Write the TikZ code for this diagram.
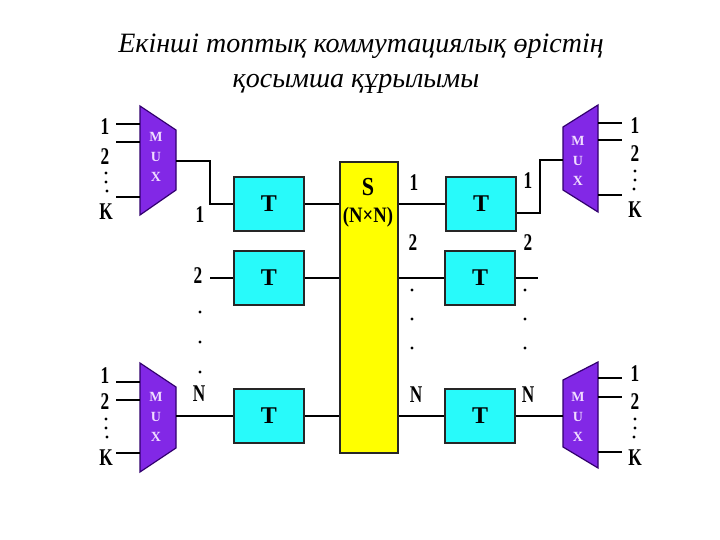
\documentclass[tikz,border=0pt]{standalone}
\usepackage{fontspec}
\setmainfont{Liberation Serif}
\usetikzlibrary{calc}
\definecolor{tcyan}{RGB}{40,250,250}
\definecolor{muxv}{RGB}{130,40,230}
\definecolor{muxd}{RGB}{50,0,110}
\definecolor{muxtxt}{RGB}{240,220,255}
\definecolor{syel}{RGB}{255,255,0}
\begin{document}
\begin{tikzpicture}[x=1pt,y=-1pt,
  wire/.style={line width=1.6pt, black},
  tbox/.style={draw=black!85, line width=1.8pt, fill=tcyan, minimum width=70pt, minimum height=54pt, inner sep=0pt, font=\fontsize{24}{24}\selectfont\bfseries},
  lab/.style={font=\fontsize{24}{24}\selectfont\bfseries, inner sep=0pt, xscale=0.72},
  slab/.style={font=\fontsize{22}{22}\selectfont\bfseries, inner sep=0pt, xscale=0.85},
  muxl/.style={font=\fontsize{14}{14}\selectfont\bfseries, text=muxtxt, inner sep=0pt},
  muxshape/.style={fill=muxv, draw=muxd, line width=1.2pt},
  pdot/.style={circle, fill=black, inner sep=0pt, minimum size=3.2pt},
  ttl/.style={font=\fontsize{28}{28}\selectfont\itshape, inner sep=0pt, anchor=base}
]
\useasboundingbox (0,0) rectangle (720,540);
\fill[white] (0,0) rectangle (720,540);

% title
\node[ttl] (title1) at (361,53) {Екінші топтық коммутациялық өрістің};
\node[ttl] (title2) at (356,88) {қосымша құрылымы};

% S switch
\node[draw=black!85, line width=1.6pt, fill=syel, minimum width=58pt, minimum height=291pt, inner sep=0pt] (s) at (369,307.5) {};
\node[slab, font=\fontsize{26}{26}\selectfont\bfseries] (sS) at (368,187) {S};
\node[slab] (sNN) at (368,217) {(N×N)};

% T boxes
\node[tbox] (t1) at (269,204) {T};
\node[tbox] (t2) at (269,278) {T};
\node[tbox] (t3) at (269,416) {T};
\node[tbox] (rt1) at (481,204) {T};
\node[tbox] (rt2) at (480,278) {T};
\node[tbox] (rt3) at (480,416) {T};

% MUX shapes
\filldraw[muxshape] (140,106) -- (176,130) -- (176,190) -- (140,215) -- cycle;
\filldraw[muxshape] (140,363) -- (176,387) -- (176,448) -- (140,472) -- cycle;
\filldraw[muxshape] (598,105) -- (563,127) -- (563,190) -- (598,212) -- cycle;
\filldraw[muxshape] (598,362) -- (563,380) -- (563,447) -- (598,468) -- cycle;
\foreach \mx/\my in {156/137, 156/397, 578/141, 578/397}{
  \node[muxl] at (\mx,\my) {M};
  \node[muxl] at (\mx,\my+20) {U};
  \node[muxl] at (\mx,\my+40) {X};
}

% MUX coordinates
\coordinate (m1o) at (176,161);
\coordinate (m3o) at (176,416);
\coordinate (rm1i) at (563,160);
\coordinate (rm3i) at (563,416);
\coordinate (l2) at (210,278);
\coordinate (r2o) at (538,278);

% MUX side lines
\foreach \yy in {124,142,197}{\draw[wire] (116,\yy) -- (140,\yy);}
\foreach \yy in {382,400,453}{\draw[wire] (116,\yy) -- (140,\yy);}
\foreach \yy in {123,140,195}{\draw[wire] (598,\yy) -- (622,\yy);}
\foreach \yy in {378,397,452}{\draw[wire] (598,\yy) -- (622,\yy);}

% MUX side labels
\node[lab] at (105,127) {1};
\node[lab] at (105,157) {2};
\node[pdot] at (106,173) {}; \node[pdot] at (106,182) {}; \node[pdot] at (107,191) {};
\node[lab] at (106,212) {K};
\node[lab] at (105,376) {1};
\node[lab] at (105,402) {2};
\node[pdot] at (106,419) {}; \node[pdot] at (106,428) {}; \node[pdot] at (107,437) {};
\node[lab] at (106,458) {K};
\node[lab] at (635,126) {1};
\node[lab] at (635,154) {2};
\node[pdot] at (635,171) {}; \node[pdot] at (635,180) {}; \node[pdot] at (634,189) {};
\node[lab] at (635,210) {K};
\node[lab] at (635,374) {1};
\node[lab] at (635,402) {2};
\node[pdot] at (635,419) {}; \node[pdot] at (635,428) {}; \node[pdot] at (634,437) {};
\node[lab] at (635,458) {K};

% connectors
\draw[wire] (m1o) -- ++(34,0) |- (t1.west);
\draw[wire] (t1.east) -- (t1.east -| s.west);
\draw[wire] (l2) -- (t2.west);
\draw[wire] (t2.east) -- (t2.east -| s.west);
\draw[wire] (m3o) -- (t3.west);
\draw[wire] (t3.east) -- (t3.east -| s.west);
\draw[wire] (s.east |- rt1.west) -- (rt1.west);
\draw[wire] ([yshift=-9pt]rt1.east) -| ($(rm1i)+(-23,0)$) -- (rm1i);
\draw[wire] (s.east |- rt2.west) -- (rt2.west);
\draw[wire] (rt2.east) -- (r2o);
\draw[wire] (s.east |- rt3.west) -- (rt3.west);
\draw[wire] (rt3.east) -- (rm3i);

% channel labels
\node[lab] at (200,215) {1};
\node[lab] at (198,276) {2};
\node[pdot] at (200,312) {}; \node[pdot] at (200,342) {}; \node[pdot] at (200,372) {};
\node[lab] at (199,394) {N};
\node[lab] at (414,183) {1};
\node[lab] at (528,181) {1};
\node[lab] at (413,243) {2};
\node[lab] at (528,243) {2};
\foreach \yy in {290,319,348}{\node[pdot] at (412,\yy) {}; \node[pdot] at (525,\yy) {};}
\node[lab] at (416,395) {N};
\node[lab] at (528,395) {N};
\end{tikzpicture}
\end{document}
